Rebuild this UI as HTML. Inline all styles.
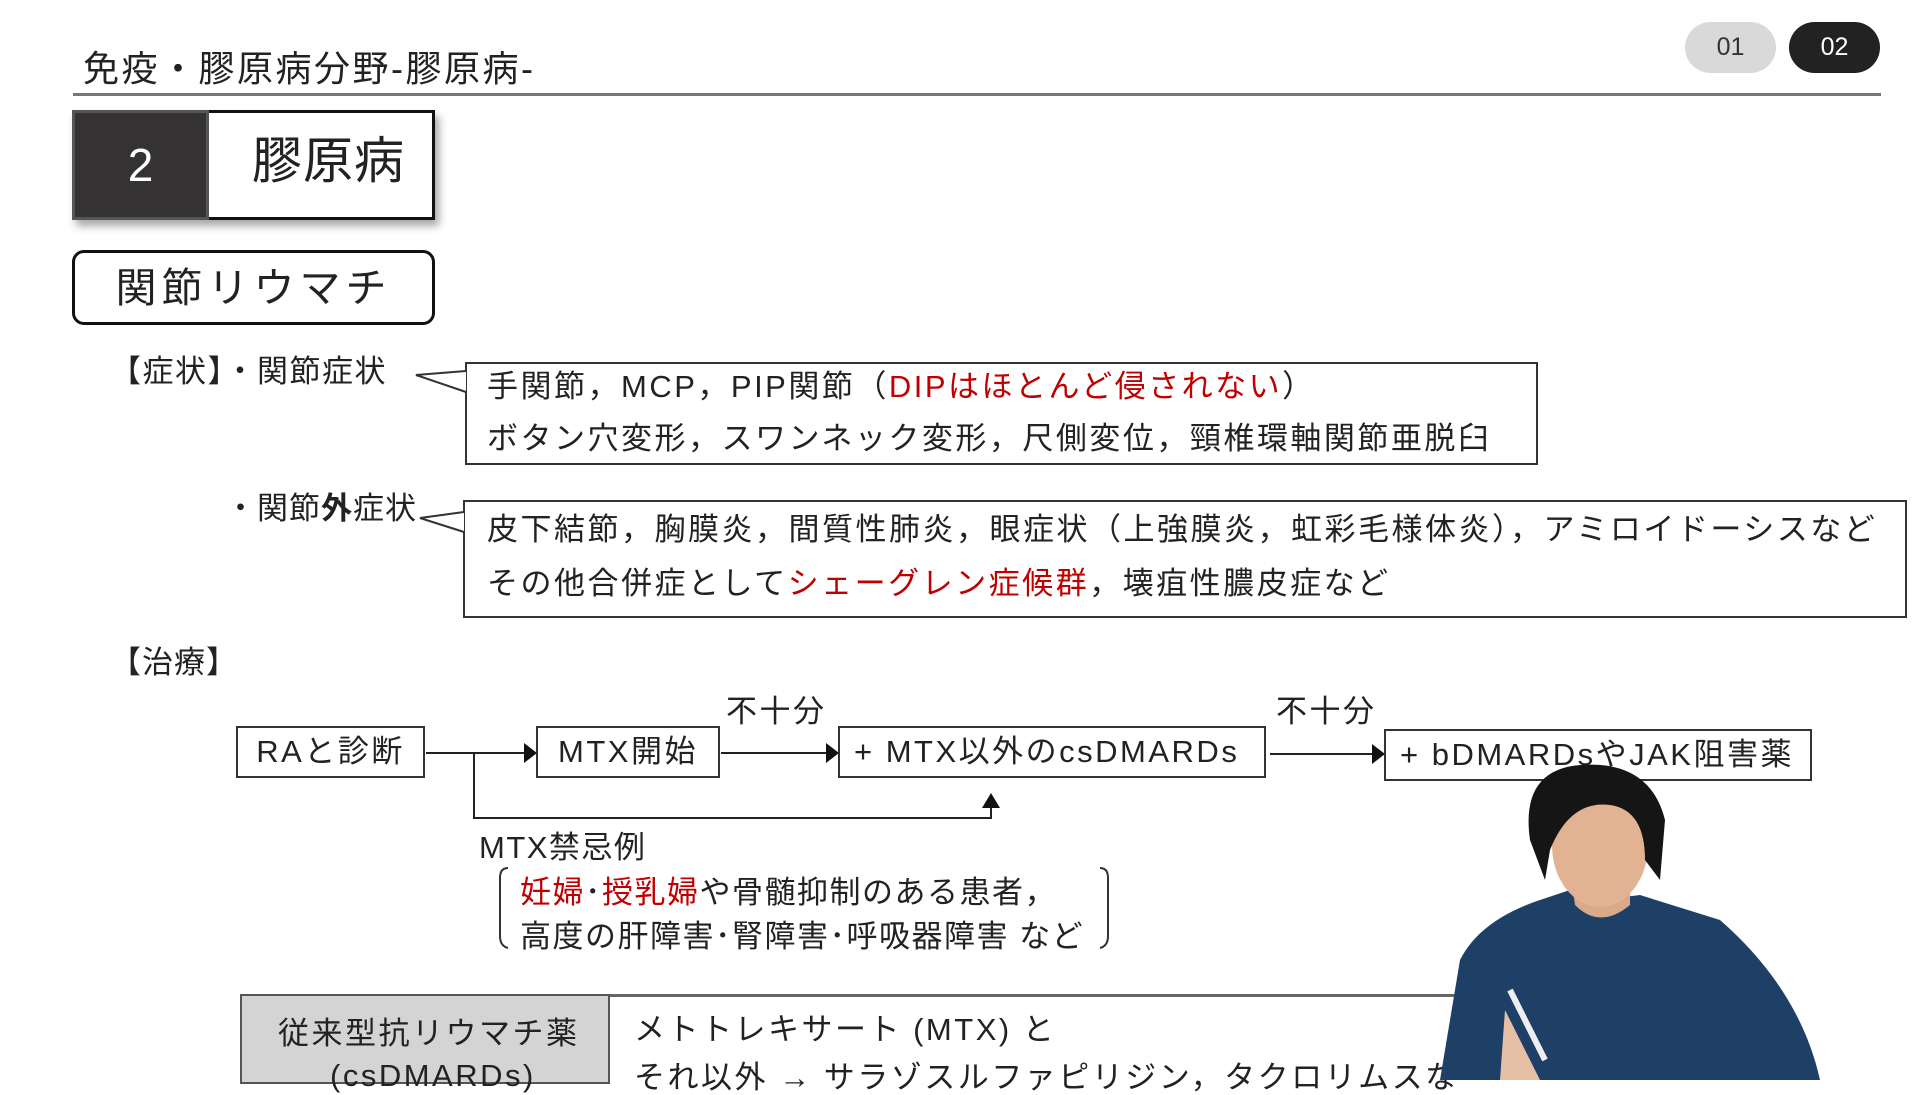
<!DOCTYPE html>
<html><head><meta charset="utf-8"><style>
*{margin:0;padding:0;box-sizing:border-box}
body{width:1920px;height:1080px;background:#fff;position:relative;overflow:hidden;font-family:"Liberation Sans","Noto Sans CJK JP",sans-serif;color:#222}
.a{position:absolute;white-space:nowrap}
.r{color:#c00000}
.bx{position:absolute;border:2px solid #333;background:#fff}
.t{font-size:31px;line-height:1;letter-spacing:2.5px}
</style></head><body>
<div class="a" style="left:83px;top:40px;font-size:36px;letter-spacing:2.5px">免疫・膠原病分野-膠原病-</div>
<div class="a" style="left:73px;top:93px;width:1808px;height:3px;background:#777"></div>
<div class="a" style="left:1685px;top:22px;width:91px;height:51px;border-radius:26px;background:#d9d9d9;color:#333;font-size:25px;text-align:center;line-height:51px">01</div>
<div class="a" style="left:1789px;top:22px;width:91px;height:51px;border-radius:26px;background:#222;color:#fff;font-size:25px;text-align:center;line-height:51px">02</div>

<div class="a" style="left:72px;top:110px;width:363px;height:110px;border:3px solid #111;background:#fff;box-shadow:4px 6px 8px rgba(0,0,0,.35)"></div>
<div class="a" style="left:72px;top:110px;width:137px;height:110px;background:#353233;border:3px solid #555;color:#fff;font-size:46px;text-align:center;line-height:104px">2</div>
<div class="a" style="left:252px;top:136px;font-size:50px;line-height:1;letter-spacing:1px">膠原病</div>

<div class="a" style="left:72px;top:250px;width:363px;height:75px;border:3px solid #111;border-radius:12px;font-size:41px;text-align:center;line-height:70px;letter-spacing:5px">関節リウマチ</div>

<div class="a t" style="left:110px;top:356px;letter-spacing:1.5px">【症状】・関節症状</div>
<div class="bx" style="left:465px;top:362px;width:1073px;height:103px"></div>
<svg class="a" style="left:0;top:0" width="1920" height="1080">
<polyline points="466,371 416,375 466,392" fill="#fff" stroke="#333" stroke-width="2"/>
</svg>
<div class="a t" style="left:487px;top:371px">手関節，MCP，PIP関節（<span class="r">DIPはほとんど侵されない</span>）</div>
<div class="a t" style="left:487px;top:423px">ボタン穴変形，スワンネック変形，尺側変位，頸椎環軸関節亜脱臼</div>

<div class="a t" style="left:225px;top:493px;letter-spacing:1px">・関節<b>外</b>症状</div>
<div class="bx" style="left:463px;top:500px;width:1444px;height:118px"></div>
<svg class="a" style="left:0;top:0" width="1920" height="1080">
<polyline points="464,512 420,518 464,532" fill="#fff" stroke="#333" stroke-width="2"/>
</svg>
<div class="a t" style="left:487px;top:514px">皮下結節，胸膜炎，間質性肺炎，眼症状（上強膜炎，虹彩毛様体炎），アミロイドーシスなど</div>
<div class="a t" style="left:487px;top:568px">その他合併症として<span class="r">シェーグレン症候群</span>，壊疽性膿皮症など</div>

<div class="a t" style="left:110px;top:647px;letter-spacing:1px">【治療】</div>

<div class="bx t" style="left:236px;top:726px;width:189px;height:52px;text-align:center;line-height:48px">RAと診断</div>
<div class="bx t" style="left:536px;top:726px;width:184px;height:52px;text-align:center;line-height:48px">MTX開始</div>
<div class="bx t" style="left:838px;top:726px;width:428px;height:52px;padding-left:14px;line-height:48px">+ MTX以外のcsDMARDs</div>
<div class="bx t" style="left:1384px;top:729px;width:428px;height:52px;padding-left:14px;line-height:48px">+ bDMARDsやJAK阻害薬</div>
<div class="a t" style="left:726px;top:696px">不十分</div>
<div class="a t" style="left:1276px;top:696px">不十分</div>
<svg class="a" style="left:0;top:0" width="1920" height="1080">
<g stroke="#222" stroke-width="2" fill="none">
<line x1="426" y1="753" x2="525" y2="753"/>
<line x1="721" y1="753" x2="827" y2="753"/>
<line x1="1270" y1="754" x2="1373" y2="754"/>
<polyline points="474,753 474,818 991,818 991,795"/>
</g>
<g fill="#111">
<polygon points="524,743 537,753 524,763"/>
<polygon points="826,743 839,753 826,763"/>
<polygon points="1372,744 1385,754 1372,764"/>
<polygon points="982,808 991,793 1000,808"/>
</g>
<path d="M508,868 q-8,0 -8,10 v58 q0,10 8,12" stroke="#333" stroke-width="2" fill="none"/>
<path d="M1100,868 q8,0 8,10 v58 q0,10 -8,12" stroke="#333" stroke-width="2" fill="none"/>
</svg>
<div class="a t" style="left:479px;top:832px;letter-spacing:1.5px">MTX禁忌例</div>
<div class="a t" style="left:520px;top:877px;letter-spacing:1.5px"><span class="r">妊婦</span>･<span class="r">授乳婦</span>や骨髄抑制のある患者，</div>
<div class="a t" style="left:520px;top:921px;letter-spacing:1.5px">高度の肝障害･腎障害･呼吸器障害 など</div>

<div class="a" style="left:240px;top:994px;width:1300px;height:3px;background:#666"></div>
<div class="a" style="left:240px;top:994px;width:370px;height:90px;background:#d4d4d4;border:2px solid #555"></div>
<div class="a t" style="left:278px;top:1018px">従来型抗リウマチ薬</div>
<div class="a t" style="left:330px;top:1060px">(csDMARDs)</div>
<div class="a t" style="left:634px;top:1014px">メトトレキサート (MTX) と</div>
<div class="a t" style="left:634px;top:1062px">それ以外 → サラゾスルファピリジン，タクロリムスな</div>

<svg class="a" style="left:0;top:0" width="1920" height="1080">
<path d="M1440,1080 L1460,960 Q1480,920 1540,900 L1570,890 L1600,900 L1640,895 L1720,920 Q1800,990 1820,1080 Z" fill="#1e3f66"/>
<path d="M1570,870 L1575,905 Q1600,930 1630,905 L1630,865 Z" fill="#d9a98a"/>
<ellipse cx="1600" cy="845" rx="48" ry="62" fill="#e2b393"/>
<path d="M1530,840 Q1520,770 1580,765 Q1650,760 1665,820 L1660,880 L1645,860 Q1645,810 1610,805 Q1570,800 1550,850 L1545,880 Z" fill="#151515"/>
<path d="M1505,1010 L1540,1080 L1500,1080 Z" fill="#e6c0a4"/>
<line x1="1510" y1="990" x2="1545" y2="1060" stroke="#eee" stroke-width="6"/>
</svg>
</body></html>
